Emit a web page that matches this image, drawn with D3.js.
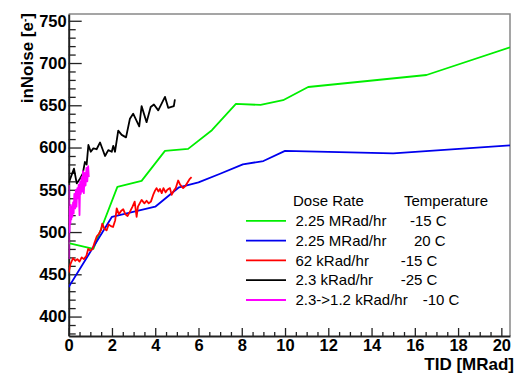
<!DOCTYPE html>
<html>
<head>
<meta charset="utf-8">
<script src="https://cdn.jsdelivr.net/npm/d3@7"></script>
<style>
body{margin:0;background:#fff;}
text{font-family:"Liberation Sans",Arial,sans-serif;}
</style>
</head>
<body>
<script>
// green: 2.25 MRad/hr, -15 C
var tidGreen=[0,1.14,2.25,3.37,4.45,5.52,6.62,7.73,8.87,9.91,11.07,16.54,20.4]
var noiseGreen=[487,480,553.5,560.6,596,598.4,620.5,651.6,650.4,656,671.6,685.8,718.5]
// blue: 2.25 MRad/hr, 20 C
var tidBlue=[0,2,4,5.1,6,7,8.05,9,10,15,20.4]
var noiseBlue=[435,518,530,553,558.7,569,580,584,596,593,602.5]
// red: 62 kRad/hr, -15 C
var tidRed=[0,0.08,0.2,0.3,0.4,0.5,0.6,0.7,0.82,0.9,1.0,1.1,1.2,1.3,1.4,1.5,1.55,1.65,1.75,1.85,1.95,2.05,2.15,2.22,2.32,2.42,2.52,2.62,2.72,2.85,2.95,3.05,3.14,3.2,3.37,3.5,3.6,3.7,3.8,3.92,3.99,4.06,4.15,4.22,4.3,4.38,4.48,4.56,4.68,4.76,4.86,4.95,5.06,5.15,5.29,5.38,5.5,5.6,5.68]
var noiseRed=[452,462,469,466,468,465,470,468,472,480,478,480,488,495,498,503,510,504,502,509,507,506,514,528,521,525,527,521,519,525,530,536,518,530,538,534,537,534,536,545,549,552,548,551,546,552,547,550,552,544,549,552,561,556,552,554,559,563,565]
// black: 2.3 kRad/hr, -25 C
var tidBlack=[0,0.245,0.37,0.52,0.65,0.75,0.83,0.91,1.02,1.14,1.29,1.45,1.68,1.83,1.99,2.06,2.14,2.29,2.45,2.65,2.83,2.98,3.26,3.37,3.6,3.79,3.94,4.14,4.45,4.6,4.86,4.91]
var noiseBlack=[558,575,557.5,563,569,583,580,603,595,599,598,606,590,597,595,602,595,620,615,612,634,640,625,649,630,648,651,644,660,647,649,657]
// magenta: 2.3->1.2 kRad/hr, -10 C
var tidMagenta=[0,0,0.01,0.02,0.04,0.06,0.08,0.1,0.12,0.14,0.17,0.2,0.23,0.26,0.3,0.33,0.36,0.4,0.43,0.46,0.5,0.53,0.56,0.6,0.63,0.66,0.7,0.74,0.78,0.82,0.86,0.9,0.93]
var noiseMagenta=[468,555,505,530,500,525,510,532,515,528,518,535,522,545,528,550,530,552,540,556,520,560,545,565,548,572,546,570,555,576,560,578,565]

var legendRate=["2.25 MRad/hr","2.25 MRad/hr","62 kRad/hr","2.3 kRad/hr","2.3->1.2 kRad/hr"]
var legendTemp=["-15 C","20 C","-15 C","-25 C","-10 C"]
var colors=["#00ee00","#0000ee","#ff0000","#000000","#ff00ff"]

var yTicks=[400,450,500,550,600,650,700,750]
var xTicks=[0,2,4,6,8,10,12,14,16,18,20]

var series=[
  {tid:tidGreen,noise:noiseGreen},
  {tid:tidBlue,noise:noiseBlue},
  {tid:tidRed,noise:noiseRed},
  {tid:tidBlack,noise:noiseBlack},
  {tid:tidMagenta,noise:noiseMagenta}
]

var W=517,H=374
var plot={left:68.7,right:510,top:14,bottom:336}

var svg=d3.select("body").append("svg")
  .attr('width',W)
  .attr('height',H)

var xScale=d3.scaleLinear()
  .domain([0,20.4])
  .range([plot.left,plot.right])
var yScale=d3.scaleLinear()
  .domain([377,758])
  .range([plot.bottom,plot.top])

svg.append("clipPath").attr('id','clip')
  .append("rect")
  .attr('x',plot.left).attr('y',plot.top)
  .attr('width',plot.right-plot.left).attr('height',plot.bottom-plot.top)

// frame top and right
svg.append("path")
  .attr('d',"M"+plot.left+","+plot.top+"H"+plot.right+"V"+plot.bottom)
  .attr('fill','none')
  .attr('stroke','#888')
  .attr('stroke-width',1.5)

// minor ticks
var xMinor=d3.range(0,20.5,0.5).filter(function(d){return xTicks.indexOf(d)<0})
var yMinor=d3.range(380,760,10).filter(function(d){return yTicks.indexOf(d)<0})

svg.append("g")
  .attr('transform','translate(0,'+plot.bottom+')')
  .call(d3.axisBottom(xScale).tickValues(xMinor).tickSize(-4).tickFormat(""))
  .call(function(g){g.select(".domain").remove()})
svg.append("g")
  .attr('transform','translate('+plot.left+',0)')
  .call(d3.axisLeft(yScale).tickValues(yMinor).tickSize(-7).tickFormat(""))
  .call(function(g){g.select(".domain").remove()})

var xAxis=svg.append("g")
  .attr('transform','translate(0,'+plot.bottom+')')
  .call(d3.axisBottom(xScale).tickValues(xTicks).tickSizeInner(-8).tickSizeOuter(0).tickPadding(3))
var yAxis=svg.append("g")
  .attr('transform','translate('+plot.left+',0)')
  .call(d3.axisLeft(yScale).tickValues(yTicks).tickSizeInner(-13).tickSizeOuter(0).tickPadding(2))

svg.selectAll(".tick line").attr('stroke','#222').attr('stroke-width',1.3)
svg.selectAll(".domain").attr('stroke','#222').attr('stroke-width',2)
svg.selectAll(".tick text")
  .style('font-family','"Liberation Sans",Arial,sans-serif')
  .style('font-weight','bold')
  .style('font-size','16.5px')
  .attr('fill','#000')

// series
var line=d3.line()
  .x(function(d){return xScale(d[0])})
  .y(function(d){return yScale(d[1])})

var lines=svg.append("g").attr('clip-path','url(#clip)')
series.forEach(function(s,i){
  var pts=s.tid.map(function(t,j){return [t,s.noise[j]]})
  lines.append("path")
    .datum(pts)
    .attr('d',line)
    .attr('fill','none')
    .attr('stroke',colors[i])
    .attr('stroke-width',1.8)
    .attr('stroke-linejoin','round')
})

// axis titles
svg.append("text")
  .attr('transform','translate(33,13) rotate(-90)')
  .attr('text-anchor','end')
  .style('font-weight','bold')
  .style('font-size','17px')
  .text("inNoise [e")
  .append("tspan").attr('baseline-shift','super').style('font-size','10px').text("-")
  .select(function(){return this.parentNode})
  .append("tspan").text("]")

svg.append("text")
  .attr('x',514)
  .attr('y',369.5)
  .attr('text-anchor','end')
  .style('font-weight','bold')
  .style('font-size','17px')
  .text("TID [MRad]")

// legend
var legend=svg.append("g")
legend.append("text").attr('x',293).attr('y',200.5).attr('dy','0.35em')
  .style('font-size','15px').text("Dose Rate")
legend.append("text").attr('x',404).attr('y',200.5).attr('dy','0.35em')
  .style('font-size','15px').text("Temperature")

var rows=legend.selectAll(".row").data(legendRate).enter().append("g")
  .attr('class','row')
  .attr('transform',function(d,i){return 'translate(0,'+(220.8+i*19.8)+')'})
rows.append("line")
  .attr('x1',246).attr('x2',286)
  .attr('stroke',function(d,i){return colors[i]})
  .attr('stroke-width',1.8)
rows.append("text")
  .attr('x',295.5).attr('dy','0.35em')
  .style('font-size','15px')
  .text(function(d){return d})
rows.append("text")
  .attr('x',function(d,i){return [410,414,400.7,400.7,422.7][i]})
  .attr('dy','0.35em')
  .style('font-size','15px')
  .text(function(d,i){return legendTemp[i]})
</script>
</body>
</html>
